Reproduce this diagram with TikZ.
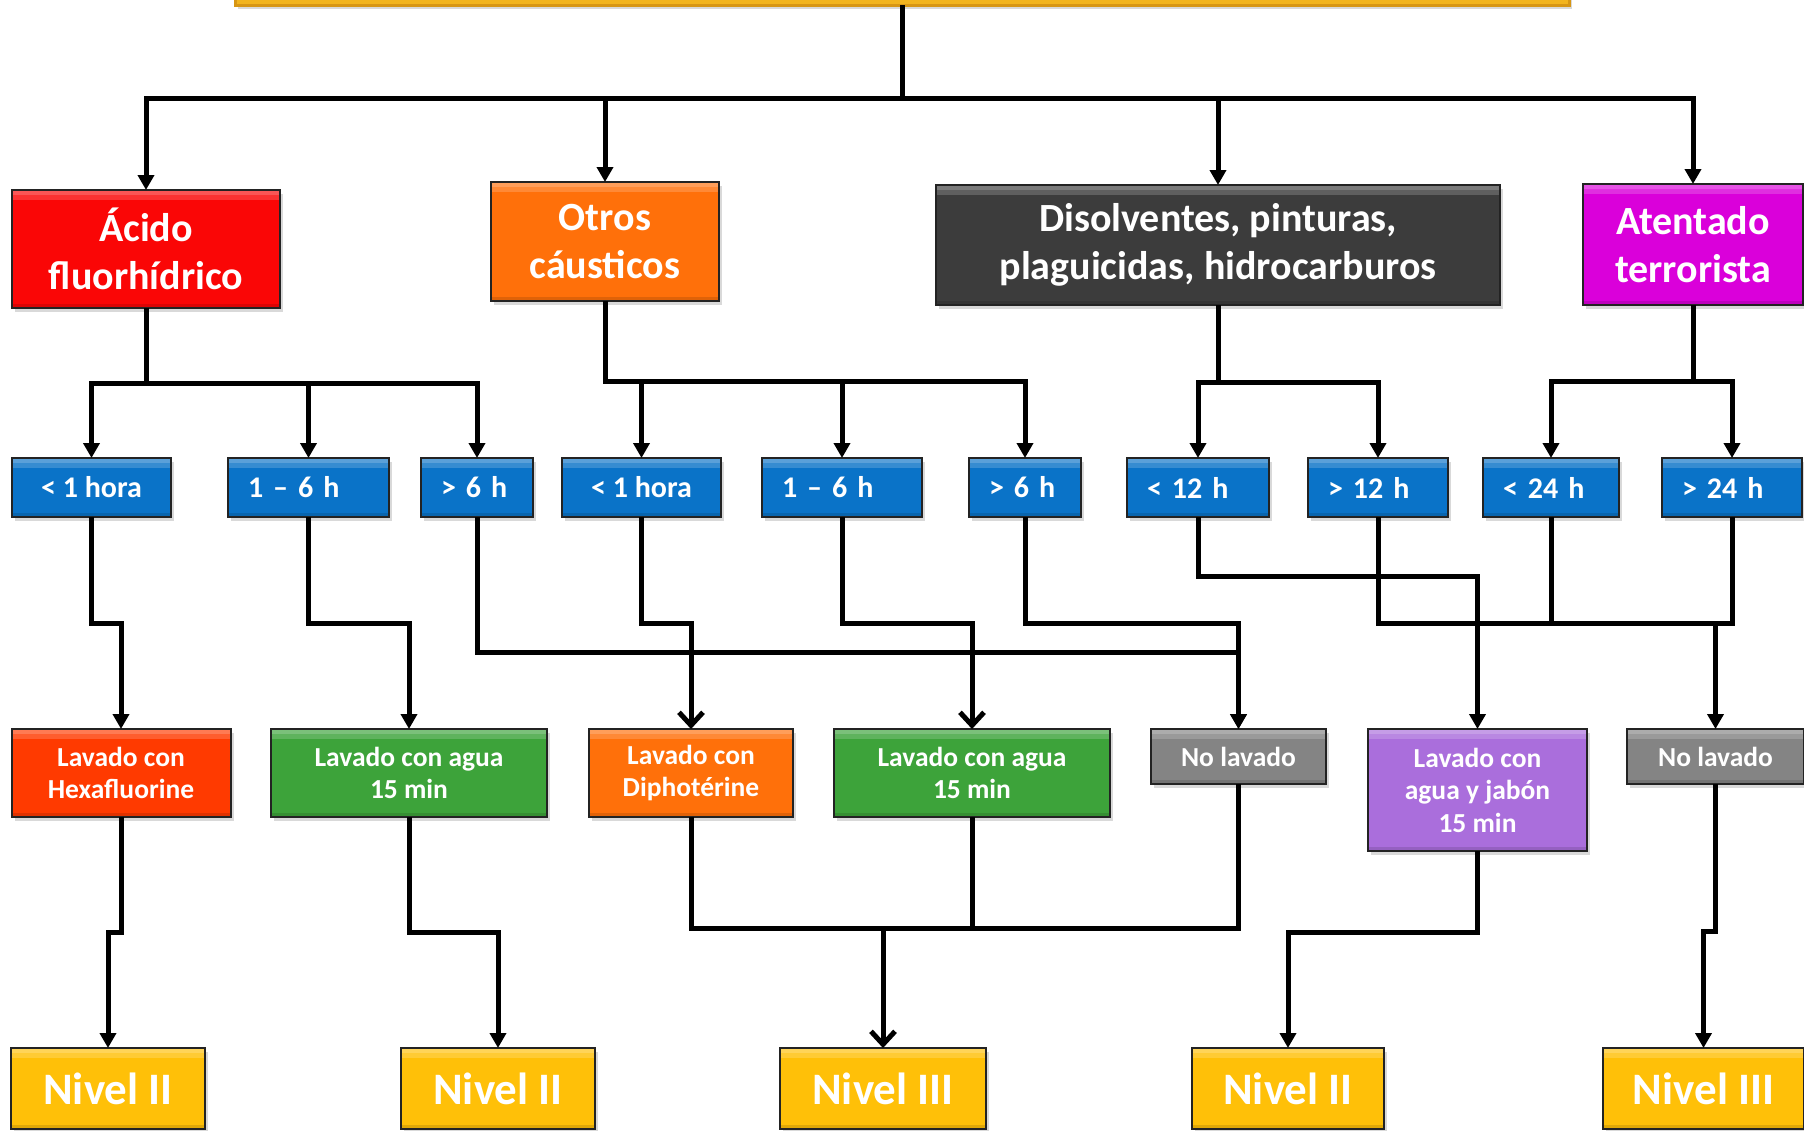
\documentclass[tikz,border=0pt]{standalone}
\usepackage{fontspec}
\setmainfont{Carlito}
\usetikzlibrary{arrows.meta,shadows}
\definecolor{cred}{RGB}{250,6,6}
\definecolor{corange}{RGB}{255,112,10}
\definecolor{cdark}{RGB}{60,60,60}
\definecolor{cmag}{RGB}{218,0,218}
\definecolor{cblue}{RGB}{10,115,200}
\definecolor{chexa}{RGB}{255,58,0}
\definecolor{cgreen}{RGB}{61,163,58}
\definecolor{cgray}{RGB}{132,132,132}
\definecolor{cpurple}{RGB}{170,110,220}
\definecolor{cnivel}{RGB}{255,192,8}
\definecolor{ctop}{RGB}{242,180,30}
\definecolor{ctopb}{RGB}{215,150,20}
\definecolor{cborder}{RGB}{35,35,35}
\newcommand\myfA{\fontsize{40}{48}\selectfont\bfseries}
\newcommand\myfB{\fontsize{30}{36}\selectfont\bfseries}
\newcommand\myfC{\fontsize{27.5}{32.5}\selectfont\bfseries}
\newcommand\myfD{\fontsize{45}{54}\selectfont\bfseries}
\begin{document}
\begin{tikzpicture}[x=1pt,y=-1pt,
  box/.style={draw=cborder, line width=2pt, inner sep=0pt, outer sep=0pt,
    text=white, align=center,
    drop shadow={shadow xshift=3pt,shadow yshift=-4pt,opacity=0.3},
    path picture={
      \fill[white,opacity=0.18] (path picture bounding box.north west) rectangle ([yshift=-10pt]path picture bounding box.north east);
      \fill[white,opacity=0.18] (path picture bounding box.north west) rectangle ([yshift=-5pt]path picture bounding box.north east);
      \fill[black,opacity=0.12] (path picture bounding box.south west) rectangle ([yshift=4pt]path picture bounding box.south east);
    }},
  sz/.style 2 args={minimum width=#1pt, minimum height=#2pt},
  big/.style={box, font=\myfA},
  tbox/.style={box, fill=cblue, font=\myfB, sz={#1}{59}},
  lbox/.style={box, font=\myfC},
  nbox/.style={box, fill=cnivel, font=\myfD, sz={#1}{81}},
  line/.style={line width=5pt, draw=black, line join=miter},
  arr/.style={line, -{Triangle[length=15pt,width=16pt]}},
  barb/.style={line, -{Straight Barb[length=13pt,width=24pt,line width=5pt]}}
]
\useasboundingbox (0,0) rectangle (1804,1130);

% top box (partially visible)
\node[draw=ctopb, fill=ctop, line width=3pt, minimum width=1334pt, minimum height=60pt, inner sep=0pt, outer sep=0pt,
  drop shadow={shadow xshift=3pt,shadow yshift=-4pt,opacity=0.3}] (top) at (902,-25) {};

% row 1
\node[big, fill=cred, sz={268}{118}] (acido) at (146,249) {Ácido\\fluorhídrico};
\node[big, fill=corange, sz={228}{119}] (otros) at (605,241.5) {Otros\\cáusticos};
\node[big, fill=cdark, sz={564}{120}] (disolv) at (1218,245) {Disolventes, pinturas,\\plaguicidas, hidrocarburos};
\node[big, fill=cmag, sz={220}{121}] (atent) at (1693,244.5) {Atentado\\terrorista};

% row 2
\node[tbox=159] (t1) at (91.5,487.5) {< 1 hora};
\node[tbox=161, text width=121pt, align=left] (t2) at (308.5,487.5) {1 – 6 h};
\node[tbox=112, text width=72pt, align=left] (t3) at (477,487.5) {> 6 h};
\node[tbox=159] (t4) at (641.5,487.5) {< 1 hora};
\node[tbox=160, text width=120pt, align=left] (t5) at (842,487.5) {1 – 6 h};
\node[tbox=112, text width=72pt, align=left] (t6) at (1025,487.5) {> 6 h};
\node[tbox=142, text width=102pt, align=left] (t7) at (1198,487.5) {< 12 h};
\node[tbox=140, text width=100pt, align=left] (t8) at (1378,487.5) {> 12 h};
\node[tbox=136, text width=96pt, align=left] (t9) at (1551,487.5) {< 24 h};
\node[tbox=140, text width=100pt, align=left] (t10) at (1732,487.5) {> 24 h};

% row 3
\node[lbox, fill=chexa, sz={219}{88}] (hexa) at (121,773) {Lavado con\\Hexafluorine};
\node[lbox, fill=cgreen, sz={276}{88}] (g1) at (409,773) {Lavado con agua\\15 min};
\node[lbox, fill=corange, sz={204}{88}] (diph) at (691,773) {Lavado con\\Diphotérine};
\node[lbox, fill=cgreen, sz={276}{88}] (g2) at (972,773) {Lavado con agua\\15 min};
\node[lbox, fill=cgray, sz={175}{55}] (nol1) at (1238.5,756.5) {No lavado};
\node[lbox, fill=cpurple, sz={219}{122}] (purp) at (1477.5,790) {Lavado con\\agua y jabón\\15 min};
\node[lbox, fill=cgray, sz={177}{55}] (nol2) at (1715.5,756.5) {No lavado};

% row 4
\node[nbox=194] (n1) at (108,1088.5) {Nivel II};
\node[nbox=194] (n2) at (498,1088.5) {Nivel II};
\node[nbox=206] (n3) at (883,1088.5) {Nivel III};
\node[nbox=192] (n4) at (1288,1088.5) {Nivel II};
\node[nbox=201] (n5) at (1703.5,1088.5) {Nivel III};

% connectors top -> row 1
\coordinate (hub) at (902,98);
\draw[arr] (top.south) -- (hub) -| (acido.north);
\draw[arr] (hub) -| (otros.north);
\draw[arr] (hub) -| (disolv.north);
\draw[arr] (hub) -| (atent.north);

% row 1 -> row 2
\coordinate (ha) at (146,383);
\draw[arr] (acido.south) -- (ha) -| (t1.north);
\draw[arr] (ha) -| (t2.north);
\draw[arr] (ha) -| (t3.north);
\coordinate (ho) at (605,381);
\draw[arr] (otros.south) -- (ho) -| (t4.north);
\draw[arr] (ho) -| (t5.north);
\draw[arr] (ho) -| (t6.north);
\coordinate (hd) at (1218,382);
\draw[arr] (disolv.south) -- (hd) -| (t7.north);
\draw[arr] (hd) -| (t8.north);
\coordinate (ht) at (1693,381);
\draw[arr] (atent.south) -- (ht) -| (t9.north);
\draw[arr] (ht) -| (t10.north);

% row 2 -> row 3
\draw[arr] (t1.south) -- ++(0,106) -| (hexa.north);
\draw[arr] (t2.south) -- ++(0,106) -| (g1.north);
\draw[arr] (t3.south) -- ++(0,135) -| (nol1.north);
\draw[barb] (t4.south) -- ++(0,106) -| (diph.north);
\draw[barb] (t5.south) -- ++(0,106) -| (g2.north);
\draw[arr] (t6.south) -- ++(0,106) -| (nol1.north);
\draw[arr] (t7.south) -- ++(0,59) -| (purp.north);
\coordinate (h2) at (1715.5,623);
\draw[line] (t8.south) |- (h2);
\draw[line] (t9.south) |- (h2);
\draw[line] (t10.south) |- (h2);
\draw[arr] (h2) -- (nol2.north);

% row 3 -> row 4
\draw[arr] (hexa.south) -- ++(0,115) -| (n1.north);
\draw[arr] (g1.south) -- ++(0,115) -| (n2.north);
\coordinate (h3) at (883,928);
\draw[line] (diph.south) |- (h3);
\draw[line] (g2.south) |- (h3);
\draw[line] (nol1.south) |- (h3);
\draw[barb] (h3) -- (n3.north);
\draw[arr] (purp.south) -- ++(0,81) -| (n4.north);
\draw[arr] (nol2.south) -- ++(0,147) -| (n5.north);
\end{tikzpicture}
\end{document}
